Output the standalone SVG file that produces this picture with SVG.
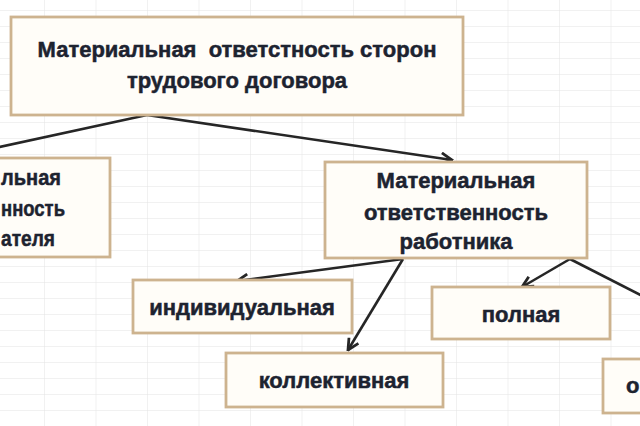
<svg xmlns="http://www.w3.org/2000/svg" width="640" height="426" viewBox="0 0 640 426">
<defs>
<pattern id="grid" x="44" y="10" width="51.5" height="16" patternUnits="userSpaceOnUse">
<path d="M0,0 H51.5 M0,0 V16" fill="none" stroke="#e4e4e4" stroke-width="1"/>
</pattern>
<marker id="arr" viewBox="0 0 14 14" refX="12.5" refY="7" markerWidth="14" markerHeight="14" markerUnits="userSpaceOnUse" orient="auto">
<path d="M1.5,1.5 L12.5,7 L1.5,12.5" fill="none" stroke="#262626" stroke-width="2.8" stroke-linejoin="miter"/>
</marker>
<style>
.box{fill:#fffdf8;stroke:#cdb38f;stroke-width:2.8}
.t{font-family:"Liberation Sans",Arial,sans-serif;font-weight:bold;font-size:22px;fill:#1d2330;stroke:#1d2330;stroke-width:0.5}
.c{stroke:#262626;stroke-width:2.6;fill:none}
</style>
</defs>
<rect width="640" height="426" fill="#ffffff"/>
<rect width="640" height="426" fill="url(#grid)"/>
<g id="connectors">
<line class="c" x1="147" y1="115" x2="-10" y2="149"/>
<line class="c" x1="147" y1="115" x2="452" y2="160" marker-end="url(#arr)"/>
<line class="c" x1="403" y1="259" x2="237" y2="281" marker-end="url(#arr)"/>
<line class="c" x1="403" y1="259" x2="348" y2="350" marker-end="url(#arr)"/>
<line class="c" x1="570" y1="259" x2="522" y2="287" marker-end="url(#arr)"/>
<line class="c" x1="570" y1="259" x2="660" y2="305"/>
</g>
<g id="top">
<rect class="box" x="11" y="17" width="452" height="98"/>
<text class="t" x="237" y="57" text-anchor="middle" xml:space="preserve">Материальная  ответстность сторон</text>
<text class="t" x="237" y="88" text-anchor="middle">трудового договора</text>
</g>
<g id="employer">
<rect class="box" x="-20" y="158" width="130" height="99"/>
<text class="t" x="1" y="185" textLength="60" lengthAdjust="spacingAndGlyphs">льная</text>
<text class="t" x="1" y="216" textLength="64" lengthAdjust="spacingAndGlyphs">нность</text>
<text class="t" x="1" y="246" textLength="54" lengthAdjust="spacingAndGlyphs">ателя</text>
</g>
<g id="worker">
<rect class="box" x="325" y="162" width="262" height="96"/>
<text class="t" x="456" y="188" text-anchor="middle">Материальная</text>
<text class="t" x="456" y="220" text-anchor="middle">ответственность</text>
<text class="t" x="456" y="249" text-anchor="middle">работника</text>
</g>
<g id="individual">
<rect class="box" x="133" y="280" width="219" height="53"/>
<text class="t" x="242" y="315" text-anchor="middle">индивидуальная</text>
</g>
<g id="collective">
<rect class="box" x="226" y="353" width="217" height="54"/>
<text class="t" x="334" y="388" text-anchor="middle">коллективная</text>
</g>
<g id="full">
<rect class="box" x="432" y="287" width="178" height="52"/>
<text class="t" x="521" y="322" text-anchor="middle">полная</text>
</g>
<g id="limited">
<rect class="box" x="603" y="359" width="60" height="54"/>
<text class="t" x="626" y="393">о</text>
</g>
</svg>
